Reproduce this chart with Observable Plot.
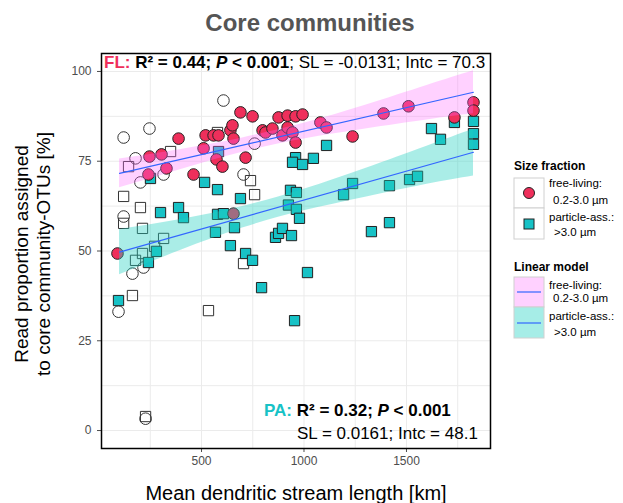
<!DOCTYPE html>
<html><head><meta charset="utf-8">
<script src="https://cdn.jsdelivr.net/npm/d3@7"></script>
<script src="https://cdn.jsdelivr.net/npm/@observablehq/plot@0.6"></script>
<style>
body{margin:0;background:#fff;}
#wrap{position:relative;width:623px;height:503px;}
</style></head><body><div id="wrap"></div>
<script>
// ---- data ----
const flX = [90,246,305,329,241,461,388,520,510,559,573,602,583,641,651,656,690,749,715,798,812,846,876,895,920,920,944,959,993,959,1080,1110,1237,1388,1510,1734,1827,1827,656];
const flY = [49.3,76.3,76.9,73.0,71.3,71.3,81.3,82.2,78.6,82.2,75.5,73.5,82.2,83.6,85.0,81.3,88.6,87.5,76.0,83.6,83.0,84.1,87.2,82.2,87.7,84.4,83.0,87.5,88.0,80.2,85.8,84.4,81.9,88.3,90.3,87.2,91.4,89.1,60.4];
const paX = [95,241,280,300,388,412,251,515,578,583,568,578,607,661,641,690,715,749,793,954,934,963,924,963,978,861,876,895,939,1017,959,944,993,1046,1110,1193,1237,1417,1515,1554,1329,1417,1622,1666,1734,1827,1827,1827];
const paY = [36.2,46.8,49.9,60.7,62.1,59.3,70.2,69.1,67.1,77.7,55.2,60.2,60.4,56.5,51.5,64.6,49.3,47.4,39.8,30.6,66.9,66.3,62.8,61.6,59.1,53.8,54.9,56.3,54.3,44.0,76.0,74.7,74.1,75.8,79.4,65.7,68.8,68.2,69.9,70.8,55.4,57.9,84.1,81.1,85.8,86.1,82.7,79.7];
const openSqX = [144,349,578,739,759,120,202,120,212,315,271,212,178,163,534,705,227];
const openSqY = [73.5,77.7,83.0,69.6,65.7,65.2,62.1,57.7,56.3,53.5,51.3,49.3,47.4,37.6,33.4,46.5,3.9];
const openCircX = [120,246,178,202,315,607,705,759,120,163,217,95,227];
const openCircY = [81.6,84.1,75.8,69.1,71.3,91.9,71.3,79.9,59.6,43.7,45.4,33.1,3.3];
const bandX = [100,400,700,1000,1300,1600,1827];
const flLo = [67.6,72.7,77.5,81.2,84.0,86.5,88.2];
const flHi = [75.6,78.3,81.5,85.6,90.6,96.1,100.2];
const paLo = [43.4,50.2,56.4,61.2,65.0,68.6,70.9];
const paHi = [56.0,58.8,62.4,67.2,73.0,79.2,83.9];
const fitX = [100,1827];
const flFit = [71.6,94.2];
const paFit = [49.7,77.5];
const xTicks = [500,1000,1500];
const yTicks = [0,25,50,75,100];
const xGrid = [250,500,750,1000,1250,1500,1750];
const yGrid = [0,12.5,25,37.5,50,62.5,75,87.5,100];

const FONT = '"Liberation Sans", Arial, Helvetica, sans-serif';
const RED = "#ef2f5b", CYAN = "#17c2c6";
const PINK = "#ff66ff", TURQ = "#20d0c0";

const zip = (xs, ys) => xs.map((x, i) => ({x, y: ys[i]}));
const fl = zip(flX, flY), pa = zip(paX, paY);
const oSq = zip(openSqX, openSqY), oCi = zip(openCircX, openCircY);
const band = bandX.map((x, i) => ({x, flLo: flLo[i], flHi: flHi[i], paLo: paLo[i], paHi: paHi[i]}));
const fits = fitX.map((x, i) => ({x, fl: flFit[i], pa: paFit[i]}));

const chart = Plot.plot({
  width: 623, height: 503,
  marginTop: 53, marginBottom: 55, marginLeft: 101, marginRight: 133,
  style: {fontFamily: FONT, fontSize: "12px", color: "#4d4d4d", background: "white"},
  x: {domain: [12, 1910]},
  y: {domain: [-5, 105]},
  marks: [
    Plot.gridX(xGrid, {stroke: "#ebebeb", strokeOpacity: 1}),
    Plot.gridY(yGrid, {stroke: "#ebebeb", strokeOpacity: 1}),
    Plot.dot(oSq, {x: "x", y: "y", symbol: "square", r: 5.8, fill: "none", stroke: "#333", strokeWidth: 1}),
    Plot.dot(oCi, {x: "x", y: "y", symbol: "circle", r: 5.8, fill: "none", stroke: "#333", strokeWidth: 1}),
    Plot.dot(pa, {x: "x", y: "y", symbol: "square", r: 5.8, fill: CYAN, stroke: "#222", strokeWidth: 1}),
    Plot.dot(fl, {x: "x", y: "y", symbol: "circle", r: 5.8, fill: RED, stroke: "#222", strokeWidth: 1}),
    Plot.areaY(band, {x: "x", y1: "flLo", y2: "flHi", fill: PINK, fillOpacity: 0.3, curve: "natural"}),
    Plot.areaY(band, {x: "x", y1: "paLo", y2: "paHi", fill: TURQ, fillOpacity: 0.38, curve: "natural"}),
    Plot.line(fits, {x: "x", y: "fl", stroke: "#3366ff", strokeWidth: 1.2}),
    Plot.line(fits, {x: "x", y: "pa", stroke: "#3366ff", strokeWidth: 1.2}),
    Plot.axisX(xTicks, {tickSize: 4, tickPadding: 4, label: null, fontSize: 12, tickFormat: d3.format("d")}),
    Plot.axisY(yTicks, {tickSize: 4, tickPadding: 6, label: null, fontSize: 12, tickFormat: d3.format("d")}),
    Plot.frame({stroke: "black", strokeWidth: 1.5})
  ]
});
document.getElementById("wrap").appendChild(chart);

const svg = d3.select(chart);
const g = svg.append("g").attr("font-family", FONT).attr("text-anchor", "start");

// title
g.append("text").attr("x", 310).attr("y", 31).attr("text-anchor", "middle")
  .attr("font-size", 24).attr("font-weight", "bold").attr("fill", "#555").text("Core communities");

// axis titles
g.append("text").attr("x", 296).attr("y", 500).attr("text-anchor", "middle")
  .attr("font-size", 20).attr("fill", "#000").text("Mean dendritic stream length [km]");
const yl = g.append("text").attr("transform", "translate(28,254) rotate(-90)")
  .attr("text-anchor", "middle").attr("font-size", 19).attr("fill", "#000");
yl.append("tspan").attr("x", 0).attr("dy", 0).text("Read proportion assigned");
yl.append("tspan").attr("x", 0).attr("dy", 22).text("to core community-OTUs [%]");

// FL annotation
const fa = g.append("text").attr("x", 104).attr("y", 68).attr("font-size", 17).attr("fill", "#000").attr("text-anchor", "start");
fa.append("tspan").attr("font-weight", "bold").attr("fill", RED).text("FL:");
fa.append("tspan").attr("font-weight", "bold").text(" R² = 0.44; ");
fa.append("tspan").attr("font-weight", "bold").attr("font-style", "italic").text("P");
fa.append("tspan").attr("font-weight", "bold").text(" < 0.001");
fa.append("tspan").text("; SL = -0.0131; Intc = 70.3");

// PA annotation
const pa1 = g.append("text").attr("x", 264).attr("y", 416).attr("font-size", 17).attr("fill", "#000").attr("text-anchor", "start");
pa1.append("tspan").attr("font-weight", "bold").attr("fill", CYAN).text("PA:");
pa1.append("tspan").attr("font-weight", "bold").text(" R² = 0.32; ");
pa1.append("tspan").attr("font-weight", "bold").attr("font-style", "italic").text("P");
pa1.append("tspan").attr("font-weight", "bold").text(" < 0.001");
g.append("text").attr("x", 297).attr("y", 439).attr("font-size", 17).attr("fill", "#000").attr("text-anchor", "start")
  .text("SL = 0.0161; Intc = 48.1");

// legend
const L = g.append("g").attr("font-size", 11.5).attr("fill", "#000").attr("text-anchor", "start");
L.append("text").attr("x", 514).attr("y", 170).attr("font-weight", "bold").attr("font-size", 12).text("Size fraction");
L.append("rect").attr("x", 514).attr("y", 178).attr("width", 30).attr("height", 30).attr("fill", "white").attr("stroke", "#d0d0d0");
L.append("rect").attr("x", 514).attr("y", 208).attr("width", 30).attr("height", 31).attr("fill", "white").attr("stroke", "#d0d0d0");
L.append("circle").attr("cx", 529).attr("cy", 193).attr("r", 5.5).attr("fill", RED).attr("stroke", "#222");
L.append("rect").attr("x", 524).attr("y", 219).attr("width", 10).attr("height", 10).attr("fill", CYAN).attr("stroke", "#222");
L.append("text").attr("x", 549).attr("y", 187).text("free-living:");
L.append("text").attr("x", 553).attr("y", 204).text("0.2-3.0 µm");
L.append("text").attr("x", 549).attr("y", 221).text("particle-ass.:");
L.append("text").attr("x", 554).attr("y", 236).text(">3.0 µm");

L.append("text").attr("x", 514).attr("y", 271).attr("font-weight", "bold").attr("font-size", 12).text("Linear model");
L.append("rect").attr("x", 514).attr("y", 277).attr("width", 30).attr("height", 30).attr("fill", "#ffd1ff").attr("stroke", "#d0d0d0");
L.append("rect").attr("x", 514).attr("y", 307).attr("width", 30).attr("height", 31).attr("fill", "#a6ede7").attr("stroke", "#d0d0d0");
L.append("line").attr("x1", 517).attr("x2", 541).attr("y1", 292).attr("y2", 292).attr("stroke", "#3366ff").attr("stroke-width", 1.2);
L.append("line").attr("x1", 517).attr("x2", 541).attr("y1", 323).attr("y2", 323).attr("stroke", "#3366ff").attr("stroke-width", 1.2);
L.append("text").attr("x", 549).attr("y", 289).text("free-living:");
L.append("text").attr("x", 553).attr("y", 302).text("0.2-3.0 µm");
L.append("text").attr("x", 549).attr("y", 320).text("particle-ass.:");
L.append("text").attr("x", 554).attr("y", 336).text(">3.0 µm");
</script>
</body></html>
